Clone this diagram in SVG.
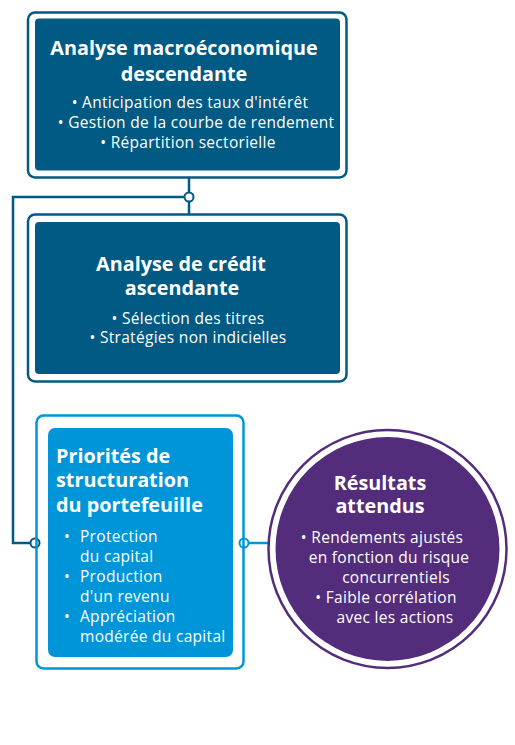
<svg xmlns="http://www.w3.org/2000/svg" width="515" height="745" viewBox="0 0 515 745">
<style>
.t{font-family:"Open Sans","Liberation Sans",sans-serif;font-weight:700;font-size:19.8px;fill:#fff}
.b{font-family:"Open Sans","Liberation Sans",sans-serif;font-size:15.5px;letter-spacing:0.3px;fill:#fff}
.c{text-anchor:middle}
.dk{fill:none;stroke:#005a84;stroke-width:2.5}
.lt{fill:none;stroke:#0095d9;stroke-width:2.5}
</style>
<rect width="515" height="745" fill="#fff"/>
<g id="connectors">
<path class="dk" d="M189 178V214M189 197H13V543H35"/>
<path class="lt" d="M244 543H270"/>
<circle cx="189" cy="197" r="4.5" fill="#fff" stroke="#005a84" stroke-width="2"/>
<circle cx="35" cy="543" r="4.5" fill="#fff" stroke="#005a84" stroke-width="2"/>
<circle cx="244" cy="543" r="4.5" fill="#fff" stroke="#0095d9" stroke-width="2"/>
</g>
<g id="macro">
<rect x="28" y="12.5" width="318.5" height="165" rx="7" class="dk"/>
<rect x="35" y="18.5" width="305" height="152" rx="4" fill="#005a84"/>
<text class="t c" x="184" y="55">Analyse macroéconomique</text>
<text class="t c" x="184" y="81">descendante</text>
<text class="b c" x="190" y="108">•  Anticipation des taux d'intérêt</text>
<text class="b c" x="196" y="128">•  Gestion de la courbe de rendement</text>
<text class="b c" x="188" y="148">•  Répartition sectorielle</text>
</g>
<g id="credit">
<rect x="28" y="214.5" width="318.5" height="167" rx="7" class="dk"/>
<rect x="35" y="222" width="305" height="152" rx="4" fill="#005a84"/>
<text class="t c" x="181" y="271">Analyse de crédit</text>
<text class="t c" x="182" y="295">ascendante</text>
<text class="b c" x="188" y="324">•   Sélection des titres</text>
<text class="b c" x="188" y="343">•  Stratégies non indicielles</text>
</g>
<g id="priorites">
<rect x="36.5" y="415.5" width="207" height="253" rx="7" class="lt"/>
<rect x="48" y="428" width="185" height="229" rx="7" fill="#0095d9"/>
<text class="t" x="56" y="463">Priorités de</text>
<text class="t" x="56" y="487">structuration</text>
<text class="t" x="56" y="512">du portefeuille</text>
<text class="b" x="64" y="542">•</text>
<text class="b" x="80" y="542">Protection</text>
<text class="b" x="80" y="562">du capital</text>
<text class="b" x="64" y="582">•</text>
<text class="b" x="80" y="582">Production</text>
<text class="b" x="80" y="602">d'un revenu</text>
<text class="b" x="64" y="622">•</text>
<text class="b" x="80" y="622">Appréciation</text>
<text class="b" x="80" y="642">modérée du capital</text>
</g>
<g id="resultats">
<circle cx="387.5" cy="549" r="119" fill="none" stroke="#532d7b" stroke-width="2.5"/>
<circle cx="387.5" cy="549" r="112" fill="#532d7b"/>
<text class="t c" x="380" y="490">Résultats</text>
<text class="t c" x="380" y="513">attendus</text>
<text class="b c" x="382" y="543">•  Rendements ajustés</text>
<text class="b c" x="389" y="563">en fonction du risque</text>
<text class="b c" x="396" y="583">concurrentiels</text>
<text class="b c" x="386" y="603">•  Faible corrélation</text>
<text class="b c" x="395" y="623">avec les actions</text>
</g>
</svg>
